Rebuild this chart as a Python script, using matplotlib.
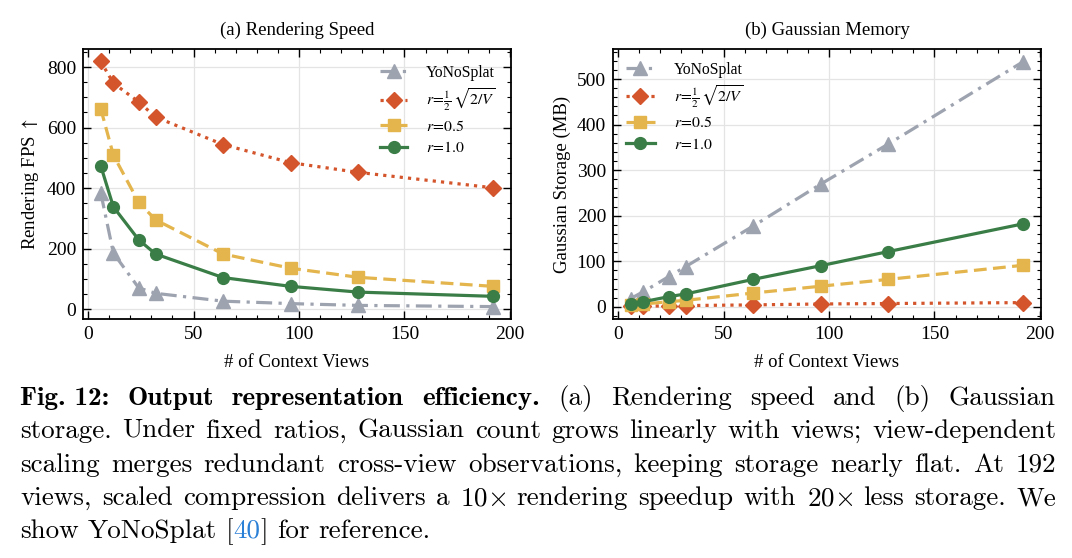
#!/usr/bin/env python3
"""
Rendering speed and Gaussian storage vs. number of context views, with caption.
"""
import numpy as np
import matplotlib
matplotlib.use('Agg')
import matplotlib.pyplot as plt
from matplotlib.ticker import MultipleLocator

plt.rcParams['font.family'] = ['Liberation Serif', 'DejaVu Serif']
plt.rcParams['mathtext.fontset'] = 'stix'

views = [6, 12, 24, 32, 64, 96, 128, 192]

# (a) rendering FPS
fps_yono = [385, 185, 70, 52, 26, 18, 12, 8]
fps_scaled = [819, 747, 685, 635, 544, 484, 452, 401]
fps_r05 = [663, 509, 353, 295, 182, 135, 105, 75]
fps_r10 = [474, 338, 229, 182, 104, 75, 56, 42]

# (b) Gaussian storage (MB)
mem_yono = [18, 33, 66, 88, 177, 269, 357, 538]
mem_scaled = [0.5, 1, 2, 2.5, 4, 6, 7, 9]
mem_r05 = [3, 6, 11, 14, 30, 45, 60, 91]
mem_r10 = [5, 11, 22, 28, 60, 90, 121, 182]

labels = ['YoNoSplat', r'$r\!=\!\frac{1}{2}\,\sqrt{2/V}$', r'$r\!=\!0.5$', r'$r\!=\!1.0$']

C_GRAY = '#9ea3b0'
C_ORANGE = '#d4552b'
C_YELLOW = '#e3b54c'
C_GREEN = '#3a7d46'


def style_axes(ax):
    ax.tick_params(which='both', direction='in', top=True, right=True, labelsize=14)
    ax.tick_params(which='major', length=6, width=1.0, pad=5)
    ax.tick_params(which='minor', length=3, width=0.8)
    ax.grid(True, which='major', color='#e4e4e4', linewidth=0.9)
    ax.set_axisbelow(True)
    for s in ax.spines.values():
        s.set_linewidth(1.3)
    ax.set_xlim(-2.4, 200.5)
    ax.xaxis.set_major_locator(MultipleLocator(50))
    ax.xaxis.set_minor_locator(MultipleLocator(10))
    ax.set_xlabel('# of Context Views', fontsize=13.5, labelpad=8)


def draw(ax, yono, scaled, r05, r10):
    ax.plot(views, yono, color=C_GRAY, linestyle=(0, (5, 2, 1, 2)), linewidth=2.3,
            marker='^', markersize=9.5, label=labels[0])
    ax.plot(views, scaled, color=C_ORANGE, linestyle=(0, (1, 1.6)), linewidth=2.3,
            marker='D', markersize=8.5, label=labels[1])
    ax.plot(views, r05, color=C_YELLOW, linestyle=(0, (4, 2)), linewidth=2.3,
            marker='s', markersize=8.5, label=labels[2])
    ax.plot(views, r10, color=C_GREEN, linestyle='-', linewidth=2.3,
            marker='o', markersize=8.5, label=labels[3])


fig = plt.figure(figsize=(10.72, 5.58), dpi=100)
ax1 = fig.add_axes([83 / 1072, 0.4283, 428 / 1072, 0.4839])
ax2 = fig.add_axes([613 / 1072, 0.4283, 428 / 1072, 0.4839])

draw(ax1, fps_yono, fps_scaled, fps_r05, fps_r10)
style_axes(ax1)
ax1.set_ylim(-33, 860)
ax1.yaxis.set_major_locator(MultipleLocator(200))
ax1.yaxis.set_minor_locator(MultipleLocator(50))
ax1.set_ylabel(r'Rendering FPS $\uparrow$', fontsize=13.5)
ax1.set_title('(a) Rendering Speed', fontsize=13.5, pad=10)
ax1.legend(loc='upper right', frameon=False, fontsize=11.3, handlelength=1.7,
           handletextpad=1.2, borderaxespad=0.6, labelspacing=0.35)

draw(ax2, mem_yono, mem_scaled, mem_r05, mem_r10)
style_axes(ax2)
ax2.set_ylim(-27, 566)
ax2.yaxis.set_major_locator(MultipleLocator(100))
ax2.yaxis.set_minor_locator(MultipleLocator(20))
ax2.set_ylabel('Gaussian Storage (MB)', fontsize=13.5)
ax2.set_title('(b) Gaussian Memory', fontsize=13.5, pad=10)
ax2.legend(loc='upper left', frameon=False, fontsize=11.3, handlelength=1.9,
           handletextpad=1.2, borderaxespad=0.4, labelspacing=0.35)

# caption, justified word by word
cap_lines = [
    [('Fig. 12:', 'b'), ('Output', 'b'), ('representation', 'b'), ('efficiency.', 'b'),
     '(a)', 'Rendering', 'speed', 'and', '(b)', 'Gaussian'],
    'storage. Under fixed ratios, Gaussian count grows linearly with views; view-dependent'.split(),
    'scaling merges redundant cross-view observations, keeping storage nearly flat. At 192'.split(),
    r'views, scaled compression delivers a 10$\times$ rendering speedup with 20$\times$ less storage. We'.split(),
    ['show', 'YoNoSplat', [('[', 'k'), ('40', 'link'), (']', 'k')], 'for', 'reference.'],
]
cap_size = 19.5
x_left, x_right = 20, 1056
baselines = [405, 438, 472, 505, 538]

fig.canvas.draw()
rend = fig.canvas.get_renderer()
W, H = fig.bbox.width, fig.bbox.height


def piece_props(tag):
    p = dict(family=['cmr10', 'DejaVu Serif'], math_fontfamily='cm', color='black')
    if tag == 'b':
        p['family'] = ['cmb10', 'DejaVu Serif']
    if tag == 'link':
        p['color'] = '#2a7fd6'
    return p


def norm_word(w):
    if isinstance(w, str):
        return [(w, 'k')]
    if isinstance(w, tuple):
        return [w]
    return w


def width_of(s, props):
    t = fig.text(0, 0, s, fontsize=cap_size, **props)
    w = t.get_window_extent(rend).width
    t.remove()
    return w


space_w = width_of('a a', piece_props('k')) - 2 * width_of('a', piece_props('k'))
for i, line in enumerate(cap_lines):
    words = [norm_word(w) for w in line]
    widths = [[width_of(s, piece_props(tag)) for s, tag in w] for w in words]
    total = sum(sum(ws) for ws in widths)
    if i < len(cap_lines) - 1:
        gap = (x_right - x_left - total) / (len(words) - 1)
    else:
        gap = space_w
    x = x_left
    for w, ws in zip(words, widths):
        for (s, tag), pw in zip(w, ws):
            fig.text(x / W, 1 - baselines[i] / H, s, fontsize=cap_size, va='baseline',
                     ha='left', **piece_props(tag))
            x += pw
        x += gap

fig.savefig('out.png', dpi=100)
